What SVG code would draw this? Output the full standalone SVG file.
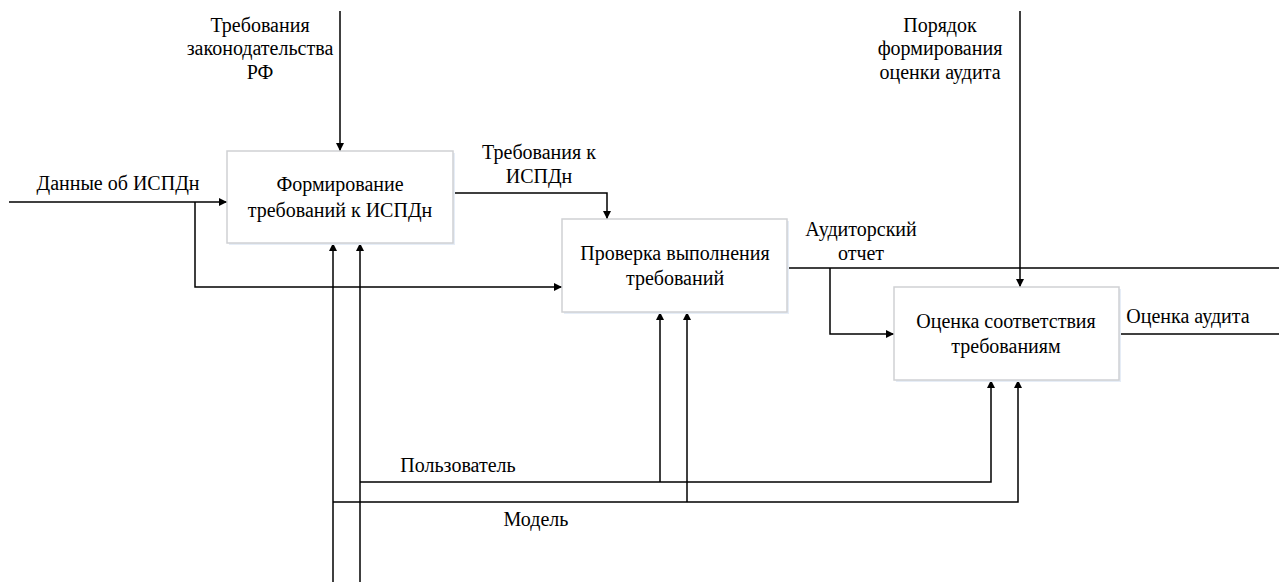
<svg xmlns="http://www.w3.org/2000/svg" width="1279" height="582" viewBox="0 0 1279 582">
<style>
.t{font-family:"Liberation Serif","Times New Roman",serif;font-size:20px;fill:#000;text-anchor:middle}
.box{fill:#fff;stroke:#cfd1d4;stroke-width:1.5}
.sh{fill:#e6edf7}
.ln{fill:none;stroke:#000;stroke-width:1.5}
</style>
<defs>
<marker id="ah" viewBox="0 0 10 10" refX="10" refY="5" markerWidth="8" markerHeight="8" markerUnits="userSpaceOnUse" orient="auto">
<path d="M0,0 L10,5 L0,10 z" fill="#000"/>
</marker>
</defs>
<rect width="1279" height="582" fill="#fff"/>
<g id="connectors">
<path class="ln" d="M340,11 V151" marker-end="url(#ah)"/>
<path class="ln" d="M9,202 H227" marker-end="url(#ah)"/>
<path class="ln" d="M195,202 V287 H562" marker-end="url(#ah)"/>
<path class="ln" d="M453,193 H607 V219" marker-end="url(#ah)"/>
<path class="ln" d="M787,268 H1279"/>
<path class="ln" d="M830,268 V334 H894" marker-end="url(#ah)"/>
<path class="ln" d="M1020,11 V287" marker-end="url(#ah)"/>
<path class="ln" d="M1119,334 H1279"/>
<path class="ln" d="M333,582 V243" marker-end="url(#ah)"/>
<path class="ln" d="M360,582 V243" marker-end="url(#ah)"/>
<path class="ln" d="M360,482 H991 V380" marker-end="url(#ah)"/>
<path class="ln" d="M333,502 H1018 V380" marker-end="url(#ah)"/>
<path class="ln" d="M660,482 V312" marker-end="url(#ah)"/>
<path class="ln" d="M687,502 V312" marker-end="url(#ah)"/>
<text class="t" x="260" y="32">Требования</text>
<text class="t" x="260" y="55">законодательства</text>
<text class="t" x="260" y="79">РФ</text>
<text class="t" x="118" y="190">Данные об ИСПДн</text>
<text class="t" x="539" y="159">Требования к</text>
<text class="t" x="539" y="183">ИСПДн</text>
<text class="t" x="861" y="236">Аудиторский</text>
<text class="t" x="861" y="260">отчет</text>
<text class="t" x="940" y="32">Порядок</text>
<text class="t" x="940" y="55">формирования</text>
<text class="t" x="940" y="79">оценки аудита</text>
<text class="t" x="1188" y="323">Оценка аудита</text>
<text class="t" x="458" y="472">Пользователь</text>
<text class="t" x="536" y="526">Модель</text>
</g>
<g id="node1">
<rect class="sh" x="229" y="153" width="226" height="92"/>
<rect class="box" x="227" y="151" width="226" height="92"/>
<text class="t" x="340" y="191">Формирование</text>
<text class="t" x="340" y="217">требований к ИСПДн</text>
</g>
<g id="node2">
<rect class="sh" x="564" y="221" width="225" height="93"/>
<rect class="box" x="562" y="219" width="225" height="93"/>
<text class="t" x="675" y="260">Проверка выполнения</text>
<text class="t" x="675" y="285">требований</text>
</g>
<g id="node3">
<rect class="sh" x="896" y="289" width="225" height="93"/>
<rect class="box" x="894" y="287" width="225" height="93"/>
<text class="t" x="1006" y="328">Оценка соответствия</text>
<text class="t" x="1006" y="353">требованиям</text>
</g>
</svg>
